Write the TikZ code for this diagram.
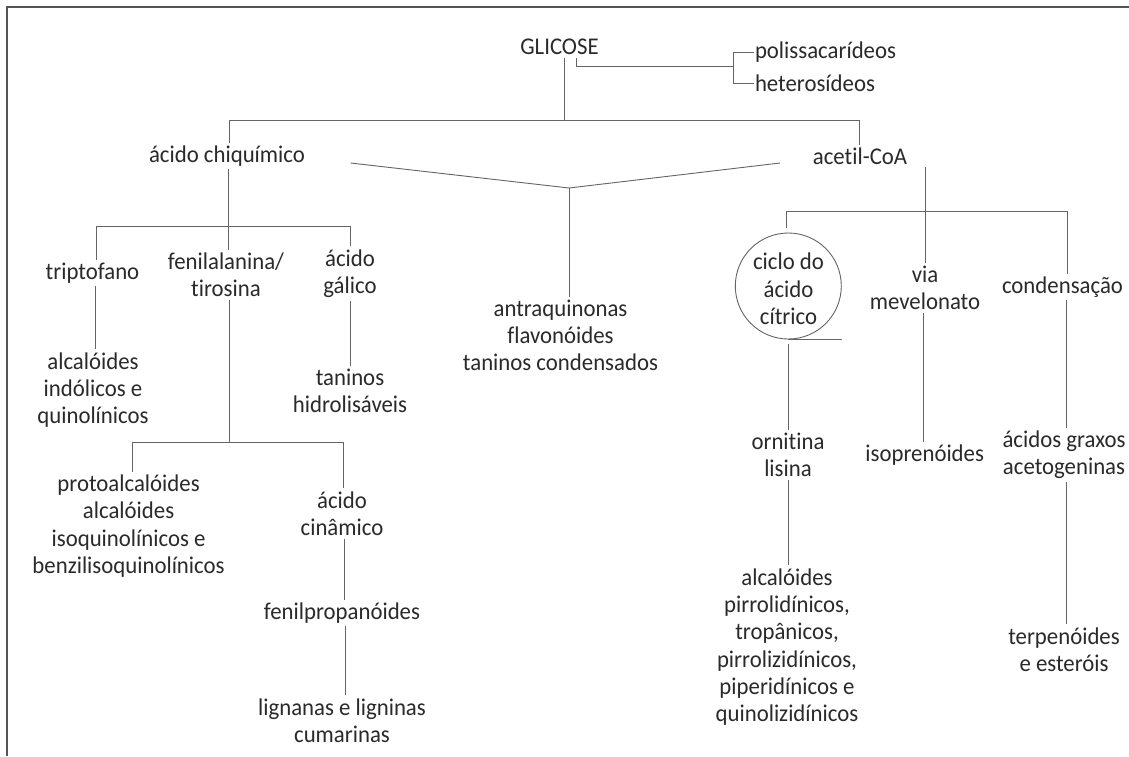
\documentclass[tikz,border=0pt]{standalone}
\usepackage{fontspec}
\setmainfont{Carlito}[FakeStretch=0.95, Ligatures={NoCommon}]
\definecolor{textc}{HTML}{2A2A2A}
\definecolor{linec}{HTML}{656565}
\definecolor{framec}{HTML}{555555}
\begin{document}
\begin{tikzpicture}[x=1pt,y=-1pt,
  txt/.style={align=center, inner sep=0pt, outer sep=3pt, text=textc,
    font=\fontsize{24}{27.3}\selectfont},
  conn/.style={draw=linec, line width=0.9pt},
  framel/.style={draw=framec, line width=1.4pt}]
\useasboundingbox (0,0) rectangle (1129,756);
\fill[white] (0,0) rectangle (1129,756);
% frame
\coordinate (fr1) at (7,756);
\coordinate (fr2) at (7,7);
\coordinate (fr3) at (1129,7);
\draw[framel] (fr1) -- (fr2) -- (fr3);

% nodes
\node[txt] (glic) at (559.5,47) {GLICOSE};
\node[txt, anchor=west, outer sep=1pt] (poly) at (754,52) {polissacarídeos};
\node[txt, anchor=west, outer sep=1pt] (hetero) at (754,83) {heterosídeos};
\node[txt] (chiq) at (227,156) {ácido chiquímico};
\node[txt] (acet) at (860,156) {acetil-CoA};
\node[txt] (trip) at (92.5,273) {triptofano};
\node[txt] (fenil) at (226,275) {fenilalanina/\\tirosina};
\node[txt] (galic) at (350,273.5) {ácido\\gálico};
\node[txt] (alcind) at (93,390) {alcalóides\\indólicos e\\quinolínicos};
\node[txt] (tanh) at (350,391) {taninos\\hidrolisáveis};
\node[txt] (proto) at (128.6,526) {protoalcalóides\\alcalóides\\isoquinolínicos e\\benzilisoquinolínicos};
\node[txt] (cinam) at (342,513.5) {ácido\\cinâmico};
\node[txt] (fenprop) at (342,613) {fenilpropanóides};
\node[txt] (lign) at (342,720.5) {lignanas e ligninas\\cumarinas};
\node[txt] (antra) at (560.5,335.5) {antraquinonas\\flavonóides\\taninos condensados};
\node[txt, circle, draw=linec, line width=0.9pt, minimum size=106pt, outer sep=5pt] (ciclo) at (788.3,286) {};
\node[txt] (ciclot) at (788.5,289) {ciclo do\\ácido\\cítrico};
\node[txt] (via) at (925,288) {via\\mevelonato};
\node[txt] (cond) at (1062.5,287) {condensação};
\node[txt] (orn) at (788,455) {ornitina\\lisina};
\node[txt] (iso) at (924.7,455) {isoprenóides};
\node[txt] (acid) at (1064,455) {ácidos graxos\\acetogeninas};
\node[txt] (alcp) at (787,647) {alcalóides\\pirrolidínicos,\\tropânicos,\\pirrolizidínicos,\\piperidínicos e\\quinolizidínicos};
\node[txt] (terp) at (1064,649.5) {terpenóides\\e esteróis};

% junction coordinates
\coordinate (j0) at (564,120);
\coordinate (jL) at (229,120);
\coordinate (jR) at (859,120);
\coordinate (b0) at (576,66);
\coordinate (b1) at (733,66);
\coordinate (vL) at (350.6,163);
\coordinate (vA) at (569,188);
\coordinate (vR) at (780,163);
\coordinate (c1) at (228.6,226);
\coordinate (c2) at (96.4,226);
\coordinate (c3) at (350.7,226);
\coordinate (f1) at (229,442);
\coordinate (f2) at (132,442);
\coordinate (f3) at (343.6,442);
\coordinate (a1) at (925.4,211.7);
\coordinate (a2) at (786.8,211.7);
\coordinate (a3) at (1067,211.7);

% connectors
\draw[conn] (glic.south -| j0) -- (j0);
\draw[conn] (chiq.north -| jL) -- (jL) -- (jR) -- (acet.north -| jR);
\draw[conn] (glic.south -| b0) -- (b0) -- (b1);
\draw[conn] (poly.west) -| (b1) |- (hetero.west);
\draw[conn] (vL) -- (vA) -- (vR);
\draw[conn] (vA) -- (antra.north -| vA);

\draw[conn] (chiq.south -| c1) -- (fenil.north -| c1);
\draw[conn] (trip.north -| c2) -- (c2) -- (c3) -- (galic.north -| c3);
\draw[conn] (trip.south) ++(3,0) coordinate (t1) -- (t1 |- alcind.north);
\draw[conn] (galic.south) -- (galic.south |- tanh.north);
\draw[conn] (fenil.south -| f1) -- (f1);
\draw[conn] (proto.north -| f2) -- (f2) -- (f3) -- (cinam.north -| f3);
\draw[conn] (cinam.south) ++(2,0) coordinate (k1) -- (k1 |- fenprop.north);
\draw[conn] (fenprop.south) ++(3,0) coordinate (k2) -- (k2 |- lign.north);

\draw[conn] (acet.south -| a1) -- (via.north -| a1);
\draw[conn] (ciclo.north -| a2) -- (a2) -- (a3) -- (cond.north -| a3);
\draw[conn] (ciclo.south) ++(0,-5) coordinate (cb) -- ++(53.5,0);
\draw[conn] (ciclo.south) -- (ciclo.south |- orn.north);
\draw[conn] (via.south) ++(-2,0) coordinate (m1) -- (m1 |- iso.north);
\draw[conn] (cond.south) ++(3.5,0) coordinate (n1) -- (n1 |- acid.north);
\draw[conn] (orn.south) -- (orn.south |- alcp.north);
\draw[conn] (acid.south) ++(2,0) coordinate (n2) -- (n2 |- terp.north);
\end{tikzpicture}
\end{document}
